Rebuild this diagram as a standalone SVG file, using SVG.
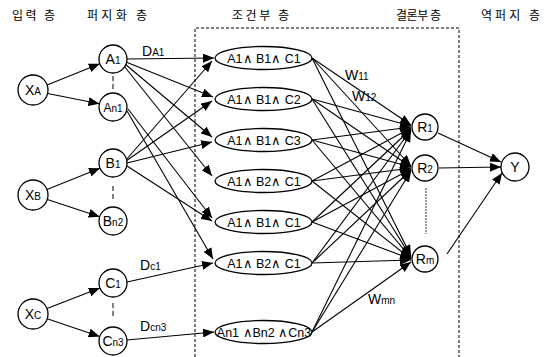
<svg xmlns="http://www.w3.org/2000/svg" width="546" height="357" viewBox="0 0 546 357">
<defs>
<marker id="ah" markerUnits="userSpaceOnUse" markerWidth="11" markerHeight="9" refX="11" refY="4.5" orient="auto">
<path d="M0,0 L11,4.5 L0,9 z" fill="#000"/>
</marker>
<style>
.n{fill:#fff;stroke:#000;stroke-width:1.3}
.t{font-family:"Liberation Sans",Arial,sans-serif;font-size:14px;fill:#000}
.s{font-size:10px}
.e{font-family:"Liberation Sans",Arial,sans-serif;font-size:12.5px;fill:#000;text-anchor:middle}
.h{font-family:"Noto Sans CJK KR","Noto Sans",sans-serif;font-size:12px;fill:#000}
.c line{stroke:#000;stroke-width:1.1;marker-end:url(#ah)}
.p{stroke:#000;stroke-width:1;stroke-dasharray:3,2;fill:none}
.d{stroke:#000;stroke-width:1;stroke-dasharray:5,3}
</style>
</defs>
<rect width="546" height="357" fill="#fff"/>
<g id="headers">
<text class="h" x="12" y="20" textLength="43">입력 층</text>
<text class="h" x="87" y="20" textLength="60">퍼지화 층</text>
<text class="h" x="232" y="20" textLength="57">조건부 층</text>
<text class="h" x="396" y="20" textLength="45">결론부 층</text>
<text class="h" x="481" y="20" textLength="59">역퍼지 층</text>
</g>
<path id="box" class="p" d="M195,357 V28 H459 V357"/>
<g id="gaps">
<line class="d" x1="113" y1="76" x2="113" y2="89"/>
<line class="d" x1="113" y1="186" x2="113" y2="201"/>
<line class="d" x1="113" y1="303" x2="113" y2="318"/>
<line x1="426" y1="188" x2="426" y2="234" stroke="#000" stroke-width="0.8" stroke-dasharray="2,1"/>
</g>
<g id="connectors" class="c">
<line x1="47.1" y1="84.9" x2="99.8" y2="63.8"/>
<line x1="47.6" y1="93.5" x2="99.4" y2="103.8"/>
<line x1="46.9" y1="189.4" x2="100" y2="168.2"/>
<line x1="47.3" y1="199.6" x2="99.7" y2="216.7"/>
<line x1="47" y1="308.6" x2="99.9" y2="288.1"/>
<line x1="47.2" y1="318.8" x2="99.7" y2="336.5"/>
<line x1="127" y1="59" x2="214" y2="58"/>
<line x1="126" y1="62" x2="213" y2="97"/>
<line x1="125" y1="64" x2="212" y2="137"/>
<line x1="124" y1="66" x2="212" y2="176"/>
<line x1="128" y1="109" x2="212" y2="218"/>
<line x1="127" y1="111" x2="213" y2="259"/>
<line x1="126" y1="160" x2="212" y2="61"/>
<line x1="126" y1="161" x2="212" y2="101"/>
<line x1="127" y1="163" x2="212" y2="142"/>
<line x1="127" y1="166" x2="212" y2="221"/>
<line x1="127" y1="282" x2="213" y2="263"/>
<line x1="127" y1="340" x2="214" y2="332"/>
<line x1="312" y1="58" x2="411" y2="125"/>
<line x1="312" y1="58" x2="411" y2="166"/>
<line x1="312" y1="58" x2="411" y2="256"/>
<line x1="312" y1="99" x2="411" y2="126"/>
<line x1="312" y1="99" x2="411" y2="167"/>
<line x1="312" y1="99" x2="411" y2="257"/>
<line x1="312" y1="140" x2="411" y2="127"/>
<line x1="312" y1="140" x2="411" y2="167"/>
<line x1="312" y1="140" x2="411" y2="258"/>
<line x1="312" y1="181" x2="411" y2="128"/>
<line x1="312" y1="181" x2="411" y2="168"/>
<line x1="312" y1="181" x2="411" y2="259"/>
<line x1="312" y1="222" x2="411" y2="129"/>
<line x1="312" y1="222" x2="411" y2="169"/>
<line x1="312" y1="222" x2="411" y2="259"/>
<line x1="312" y1="263" x2="411" y2="130"/>
<line x1="312" y1="263" x2="411" y2="170"/>
<line x1="312" y1="263" x2="411" y2="260"/>
<line x1="312" y1="332" x2="411" y2="131"/>
<line x1="312" y1="332" x2="411" y2="171"/>
<line x1="312" y1="332" x2="411" y2="262"/>
<line x1="438" y1="133" x2="501" y2="162"/>
<line x1="439" y1="168" x2="501" y2="167"/>
<line x1="447" y1="254" x2="502" y2="173"/>
</g>
<g id="edge-labels">
<text class="t" x="142" y="56">D<tspan class="s">A1</tspan></text>
<text class="t" x="140" y="270">D<tspan class="s">c1</tspan></text>
<text class="t" x="140" y="331">D<tspan class="s">cn3</tspan></text>
<text class="t" x="345" y="80">W<tspan class="s">11</tspan></text>
<text class="t" x="352" y="101">W<tspan class="s">12</tspan></text>
<text class="t" x="368" y="304">W<tspan class="s">mn</tspan></text>
</g>
<g id="XA"><circle class="n" cx="33" cy="90" r="15"/><text class="t" x="33" y="95" text-anchor="middle">X<tspan class="s">A</tspan></text></g>
<g id="XB"><circle class="n" cx="33" cy="195" r="15"/><text class="t" x="33" y="200" text-anchor="middle">X<tspan class="s">B</tspan></text></g>
<g id="XC"><circle class="n" cx="33" cy="314" r="15"/><text class="t" x="33" y="319" text-anchor="middle">X<tspan class="s">C</tspan></text></g>
<g id="A1"><circle class="n" cx="113" cy="59" r="14"/><text class="t" x="113" y="64" text-anchor="middle">A<tspan class="s">1</tspan></text></g>
<g id="An1"><circle class="n" cx="113" cy="107" r="14"/><text class="t" x="113" y="112" text-anchor="middle" style="font-size:12px">A<tspan class="s">n1</tspan></text></g>
<g id="B1"><circle class="n" cx="113" cy="163" r="14"/><text class="t" x="113" y="168" text-anchor="middle">B<tspan class="s">1</tspan></text></g>
<g id="Bn2"><circle class="n" cx="113" cy="221" r="14"/><text class="t" x="113" y="226" text-anchor="middle">B<tspan class="s">n2</tspan></text></g>
<g id="C1"><circle class="n" cx="113" cy="283" r="14"/><text class="t" x="113" y="288" text-anchor="middle">C<tspan class="s">1</tspan></text></g>
<g id="Cn3"><circle class="n" cx="113" cy="341" r="14"/><text class="t" x="113" y="346" text-anchor="middle">C<tspan class="s">n3</tspan></text></g>
<g id="E1"><ellipse class="n" cx="263.5" cy="58" rx="48.5" ry="11.5"/><text class="e" x="264" y="63">A1∧ B1∧ C1</text></g>
<g id="E2"><ellipse class="n" cx="263.5" cy="99" rx="48.5" ry="11.5"/><text class="e" x="264" y="104">A1∧ B1∧ C2</text></g>
<g id="E3"><ellipse class="n" cx="263.5" cy="140" rx="48.5" ry="11.5"/><text class="e" x="264" y="145">A1∧ B1∧ C3</text></g>
<g id="E4"><ellipse class="n" cx="263.5" cy="181" rx="48.5" ry="11.5"/><text class="e" x="264" y="186">A1∧ B2∧ C1</text></g>
<g id="E5"><ellipse class="n" cx="263.5" cy="222" rx="48.5" ry="11.5"/><text class="e" x="264" y="227">A1∧ B1∧ C1</text></g>
<g id="E6"><ellipse class="n" cx="263.5" cy="263" rx="48.5" ry="11.5"/><text class="e" x="264" y="268">A1∧ B2∧ C1</text></g>
<g id="E7"><ellipse class="n" cx="263.5" cy="332" rx="48.5" ry="11.5"/><text class="e" x="264" y="337">An1 ∧Bn2 ∧Cn3</text></g>
<g id="R1"><circle class="n" cx="425" cy="127" r="13"/><text class="t" x="425" y="132" text-anchor="middle">R<tspan class="s">1</tspan></text></g>
<g id="R2"><circle class="n" cx="425" cy="168" r="13"/><text class="t" x="425" y="173" text-anchor="middle">R<tspan class="s">2</tspan></text></g>
<g id="Rm"><circle class="n" cx="425" cy="259" r="13"/><text class="t" x="425" y="264" text-anchor="middle">R<tspan class="s">m</tspan></text></g>
<g id="Y"><circle class="n" cx="515" cy="167" r="14"/><text class="t" x="515" y="172" text-anchor="middle">Y</text></g>
</svg>
